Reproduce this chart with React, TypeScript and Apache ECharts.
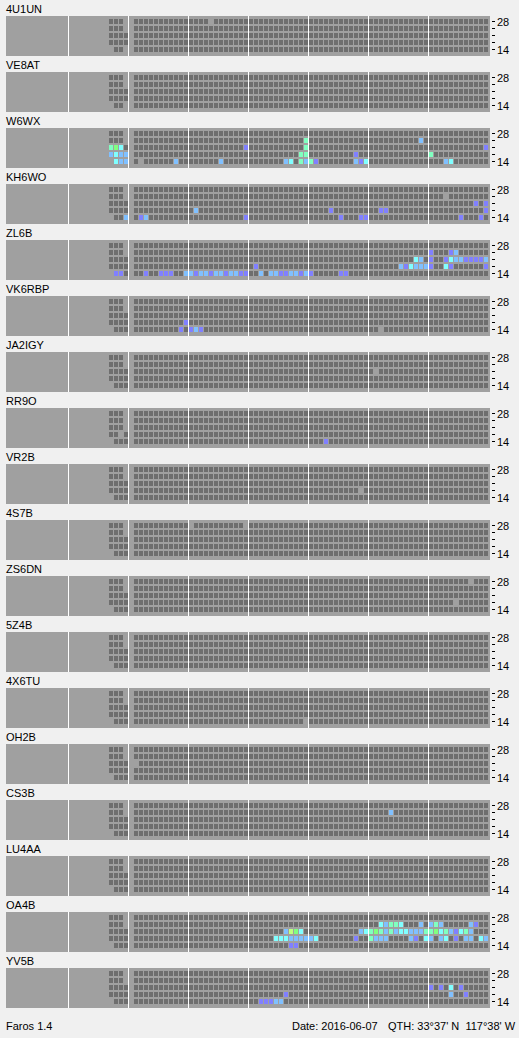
import React, { useEffect, useRef } from 'react';
import * as echarts from 'echarts';

// ---------- data ----------
const STATIONS = ['4U1UN', 'VE8AT', 'W6WX', 'KH6WO', 'ZL6B', 'VK6RBP', 'JA2IGY', 'RR9O', 'VR2B', '4S7B', 'ZS6DN', '5Z4B', '4X6TU', 'OH2B', 'CS3B', 'LU4AA', 'OA4B', 'YV5B'];
const BANDS = ['14', '18', '21', '24', '28'];
const FIRST_SLOT = -4;
const LAST_SLOT = 71;
const SLOTS: string[] = [];
for (let s = FIRST_SLOT; s <= LAST_SLOT; s++) SLOTS.push(String(s));

// signal levels: 0 = no data, 1 = not heard, 2.. = heard (weak -> strong)
const GAP = 0, V = 2, B = 3, C = 4, A = 5, G = 6, Y = 7;
const LEVEL_COLORS = ['#a0a0a0', '#6e6e6e', '#8080ff', '#80c0ff', '#80ffff', '#80ffc0', '#80ff80', '#c0ff80'];

type Cell = [number, number, number]; // [slot, band MHz, level]

const COMMON_GAPS: Cell[] = [[-1, 28, GAP], [-1, 24, GAP], [-4, 14, GAP], [0, 14, GAP], [0, 18, GAP], [0, 21, GAP], [0, 24, GAP], [0, 28, GAP]];

const S_4U1UN: Cell[] = [[-1, 14, GAP], [16, 28, GAP]];
const S_VE8AT: Cell[] = [[-1, 14, GAP]];
const S_W6WX: Cell[] = [
  [-4, 21, A], [-3, 21, G], [-2, 21, C], [-4, 18, B], [-3, 18, C], [-2, 18, B], [-1, 18, B], [-3, 14, C], [-2, 14, B], [-1, 14, B],
  [2, 14, GAP], [9, 14, B], [18, 14, B], [31, 14, B], [32, 14, C], [34, 14, A], [35, 14, B], [36, 14, A], [37, 14, V], [45, 14, B], [46, 14, V], [47, 14, C], [63, 14, B], [64, 14, C],
  [34, 18, A], [35, 18, A], [45, 18, V], [60, 18, A],
  [23, 21, V], [35, 21, A], [71, 21, V],
  [35, 24, A], [58, 24, B],
];
const S_KH6WO: Cell[] = [
  [-1, 14, B],
  [2, 14, V], [3, 14, B], [23, 14, V], [42, 14, V], [46, 14, V], [47, 14, V], [66, 14, V], [70, 14, V],
  [13, 18, B], [40, 18, V], [50, 18, V], [51, 18, V], [71, 18, V],
  [69, 21, V], [71, 21, V],
  [63, 24, GAP],
];
const S_ZL6B: Cell[] = [
  [-3, 14, V], [-2, 14, V],
  [3, 14, V], [6, 14, V], [7, 14, V], [8, 14, V], [11, 14, B], [12, 14, B], [13, 14, V], [14, 14, B], [15, 14, B], [16, 14, V], [17, 14, B], [18, 14, B], [19, 14, V], [20, 14, B], [21, 14, B], [22, 14, V], [23, 14, V],
  [26, 14, B], [28, 14, B], [29, 14, B], [30, 14, V], [31, 14, V], [32, 14, B], [33, 14, B], [34, 14, V], [35, 14, B], [36, 14, V], [42, 14, V], [43, 14, V],
  [25, 18, V], [54, 18, B], [55, 18, V], [56, 18, C], [57, 18, B], [58, 18, B], [59, 18, B], [60, 18, V], [63, 18, C], [64, 18, V], [71, 18, V],
  [57, 21, C], [58, 21, B], [60, 21, V], [63, 21, V], [64, 21, C], [65, 21, B], [66, 21, B], [67, 21, V], [68, 21, V], [69, 21, V], [70, 21, V], [71, 21, B],
  [60, 24, V], [64, 24, V], [65, 24, B],
];
const S_VK6RBP: Cell[] = [[10, 14, V], [12, 14, V], [13, 14, B], [14, 14, V], [11, 18, V], [50, 14, GAP]];
const S_JA2IGY: Cell[] = [[49, 21, GAP]];
const S_RR9O: Cell[] = [[-2, 18, GAP], [-1, 21, GAP], [39, 14, V]];
const S_VR2B: Cell[] = [[46, 18, GAP]];
const S_4S7B: Cell[] = [[12, 28, GAP], [23, 28, GAP]];
const S_ZS6DN: Cell[] = [[68, 28, GAP], [65, 18, GAP]];
const S_5Z4B: Cell[] = [];
const S_4X6TU: Cell[] = [[35, 14, GAP]];
const S_OH2B: Cell[] = [[1, 21, GAP]];
const S_CS3B: Cell[] = [[52, 24, B]];
const S_LU4AA: Cell[] = [];
const S_OA4B: Cell[] = [
  [50, 24, C], [51, 24, B], [52, 24, A], [53, 24, A], [54, 24, C], [58, 24, B], [60, 24, B], [61, 24, A], [62, 24, B], [68, 24, B], [69, 24, V],
  [31, 21, B], [32, 21, Y], [33, 21, G], [34, 21, C], [46, 21, B], [47, 21, C], [48, 21, A], [49, 21, G], [50, 21, A], [51, 21, B], [52, 21, A], [53, 21, B], [54, 21, C], [55, 21, C],
  [56, 21, B], [57, 21, B], [58, 21, B], [59, 21, A], [60, 21, A], [61, 21, G], [62, 21, C], [63, 21, A], [64, 21, B], [65, 21, V], [66, 21, C], [67, 21, A], [68, 21, B],
  [29, 18, C], [30, 18, C], [31, 18, C], [32, 18, B], [33, 18, B], [34, 18, B], [35, 18, B], [36, 18, B], [37, 18, C], [45, 18, V], [48, 18, A], [49, 18, B], [50, 18, B], [51, 18, B],
  [56, 18, B], [57, 18, V], [59, 18, C], [60, 18, B], [62, 18, B], [63, 18, C], [65, 18, V], [67, 18, B], [68, 18, B], [70, 18, C], [71, 18, B],
  [32, 14, V], [33, 14, V],
];
const S_YV5B: Cell[] = [
  [26, 14, V], [27, 14, V], [28, 14, V], [29, 14, B], [30, 14, B],
  [31, 18, V], [64, 18, B], [67, 18, V],
  [60, 21, V], [62, 21, V], [64, 21, C], [66, 21, V],
];
const STATION_CELLS: Cell[][] = [S_4U1UN, S_VE8AT, S_W6WX, S_KH6WO, S_ZL6B, S_VK6RBP, S_JA2IGY, S_RR9O, S_VR2B, S_4S7B, S_ZS6DN, S_5Z4B, S_4X6TU, S_OH2B, S_CS3B, S_LU4AA, S_OA4B, S_YV5B];

const SECTION_LINES = [68, 128, 188, 248, 308, 368, 428];
const FOOTER_LEFT = 'Faros 1.4';
const FOOTER_DATE = 'Date: 2016-06-07';
const FOOTER_QTH = "QTH: 33°37' N  117°38' W";

// ---------- layout ----------
const W = 519;
const H = 1038;
const PANEL_TOP0 = 16;
const PANEL_PITCH = 56;
const PANEL_X = 6;
const PANEL_W = 484;
const PANEL_H = 40;
const FONT = "'Liberation Sans', Arial, sans-serif";

function buildCells(extra: Cell[]): number[][] {
  const map = new Map<string, number>();
  for (const [s, b, l] of COMMON_GAPS) map.set(s + '|' + b, l);
  for (const [s, b, l] of extra) map.set(s + '|' + b, l);
  const out: number[][] = [];
  SLOTS.forEach((slot, si) => {
    BANDS.forEach((band, bi) => {
      const key = slot + '|' + band;
      const lvl = map.has(key) ? (map.get(key) as number) : 1;
      if (lvl !== GAP) out.push([si, bi, lvl]);
    });
  });
  return out;
}

export default function App() {
  const ref = useRef<HTMLDivElement>(null);
  useEffect(() => {
    if (!ref.current) return;
    const chart = echarts.init(ref.current, undefined, { renderer: 'svg' });
    const grids: any[] = [];
    const xAxes: any[] = [];
    const yAxes: any[] = [];
    const series: any[] = [];
    const graphics: any[] = [];
    STATIONS.forEach((name, i) => {
      const T = PANEL_TOP0 + i * PANEL_PITCH;
      graphics.push({
        type: 'text', x: PANEL_X, y: T - 7, z: 1, silent: true,
        style: { text: name, fill: '#000', font: `11px ${FONT}`, verticalAlign: 'middle' },
      });
      graphics.push({ type: 'rect', z: 1, silent: true, shape: { x: PANEL_X, y: T, width: PANEL_W, height: PANEL_H }, style: { fill: '#a0a0a0' } });
      SECTION_LINES.forEach((lx) => {
        graphics.push({ type: 'rect', z: 2, silent: true, shape: { x: lx, y: T, width: 1, height: PANEL_H }, style: { fill: '#ffffff' } });
      });
      grids.push({ left: 109, top: T + 2, width: 380, height: 35, show: false });
      xAxes.push({ type: 'category', gridIndex: i, data: SLOTS, show: false });
      yAxes.push({
        type: 'category', gridIndex: i, data: BANDS, position: 'right', offset: 3,
        axisLine: { show: false },
        axisTick: { show: true, alignWithLabel: true, length: 3, interval: 0, lineStyle: { color: '#000', width: 1 } },
        axisLabel: {
          show: true, interval: 0, margin: 5, fontSize: 11, fontFamily: FONT, color: '#000',
          formatter: (v: string) => (v === '28' || v === '14' ? v : ''),
        },
        splitLine: { show: false },
      });
      series.push({
        type: 'custom', xAxisIndex: i, yAxisIndex: i, z: 5, silent: true,
        encode: { x: 0, y: 1 },
        data: buildCells(STATION_CELLS[i]),
        renderItem: (_p: any, api: any) => {
          const pt = api.coord([api.value(0), api.value(1)]);
          return {
            type: 'rect',
            shape: { x: Math.round(pt[0] - 2.5), y: Math.round(pt[1] - 2.5), width: 4, height: 5 },
            style: { fill: LEVEL_COLORS[api.value(2)] },
          };
        },
      });
    });
    graphics.push({ type: 'text', x: 6, y: 1026, z: 1, silent: true, style: { text: FOOTER_LEFT, fill: '#000', font: `11px ${FONT}`, verticalAlign: 'middle' } });
    graphics.push({ type: 'text', x: 292, y: 1026, z: 1, silent: true, style: { text: FOOTER_DATE, fill: '#000', font: `11px ${FONT}`, verticalAlign: 'middle' } });
    graphics.push({ type: 'text', x: 388, y: 1026, z: 1, silent: true, style: { text: FOOTER_QTH, fill: '#000', font: `11px ${FONT}`, verticalAlign: 'middle' } });

    chart.setOption({
      animation: false,
      backgroundColor: '#f0f0f0',
      grid: grids,
      xAxis: xAxes,
      yAxis: yAxes,
      series,
      graphic: { elements: graphics },
    });
    return () => chart.dispose();
  }, []);
  return <div ref={ref} style={{ position: 'absolute', left: 0, top: 0, width: W, height: H }} />;
}
